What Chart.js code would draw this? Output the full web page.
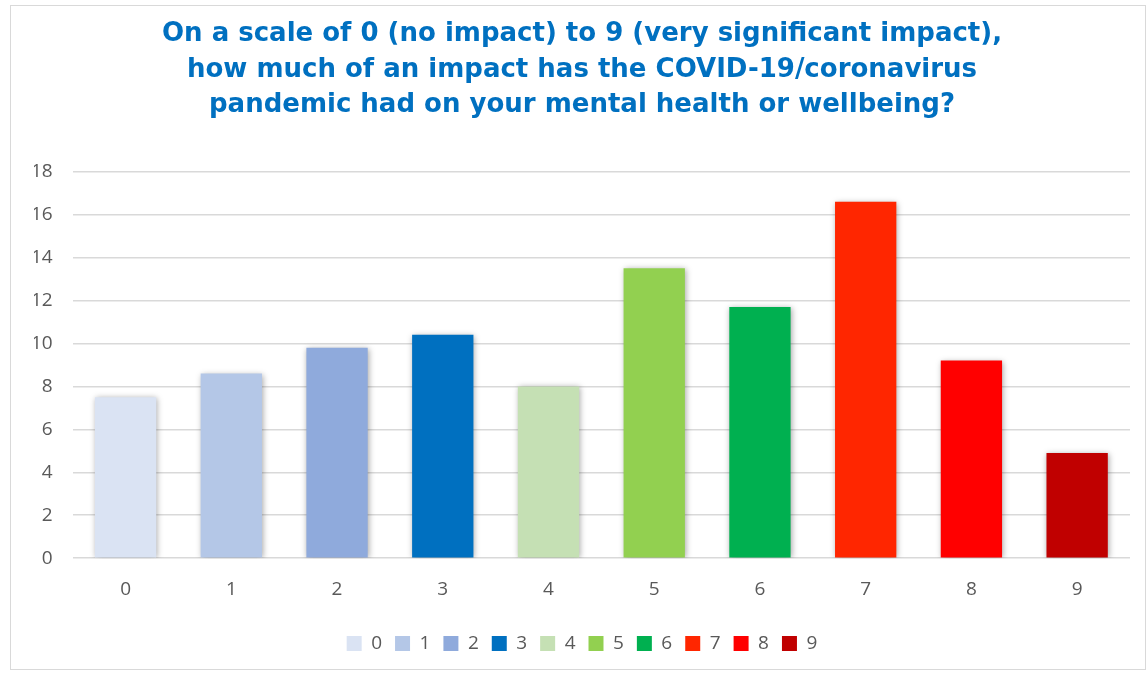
<!DOCTYPE html>
<html>
<head>
<meta charset="utf-8">
<script src="https://cdn.jsdelivr.net/npm/chart.js@4.4.0/dist/chart.umd.min.js"></script>
<style>
  body { margin: 0; background: #fff; }
  .kotak {
    position: absolute; left: 10px; top: 5px;
    width: 1136px; height: 665px;
    border: 1px solid #d9d9d9; box-sizing: border-box;
  }
</style>
</head>
<body>
<div class="kotak"><canvas id="impactChart"></canvas></div>
<script>
// Data dari gambar
const kategori = ['0', '1', '2', '3', '4', '5', '6', '7', '8', '9'];
const nilai = [7.5, 8.6, 9.8, 10.4, 8.0, 13.5, 11.7, 16.6, 9.2, 4.9];
const warna = ['#DAE3F3', '#B4C7E7', '#8FAADC', '#0070C0', '#C5E0B4',
               '#92D050', '#00B050', '#FF2600', '#FF0000', '#C00000'];
const judul = [
    'On a scale of 0 (no impact) to 9 (very significant impact),',
    'how much of an impact has the COVID-19/coronavirus',
    'pandemic had on your mental health or wellbeing?'
];

// Tiap kategori jadi dataset sendiri supaya legend menampilkan semua warna
const datasets = kategori.map((k, i) => ({
    label: k,
    data: kategori.map((_, j) => (j === i ? nilai[i] : null)),
    backgroundColor: warna[i],
    borderWidth: 0,
    barPercentage: 0.58,
    categoryPercentage: 1,
    skipNull: true
}));

// Bayangan tipis di belakang batang
const bayangan = {
    id: 'bayangan',
    beforeDatasetsDraw(chart) {
        chart.ctx.save();
        chart.ctx.shadowColor = 'rgba(0,0,0,0.35)';
        chart.ctx.shadowBlur = 6;
        chart.ctx.shadowOffsetX = 1;
        chart.ctx.shadowOffsetY = 1;
    },
    afterDatasetsDraw(chart) {
        chart.ctx.restore();
    }
};

new Chart(document.getElementById('impactChart'), {
    type: 'bar',
    data: { labels: kategori, datasets: datasets },
    options: {
        responsive: true,
        maintainAspectRatio: false,
        animation: false,
        layout: { padding: { left: 23, right: 15, top: 10, bottom: 6 } },
        plugins: {
            title: {
                display: true,
                text: judul,
                color: '#0070C0',
                font: { family: 'DejaVu Sans', size: 26, weight: 'bold', lineHeight: 1.38 },
                padding: { top: 0, bottom: 48 }
            },
            legend: {
                position: 'bottom',
                labels: {
                    color: '#595959',
                    font: { family: 'Open Sans', size: 19 },
                    boxWidth: 15,
                    boxHeight: 15,
                    padding: 13
                }
            },
            tooltip: { enabled: false }
        },
        scales: {
            x: {
                stacked: true,
                grid: { display: false },
                border: { display: false },
                ticks: { color: '#595959', font: { family: 'Open Sans', size: 19 }, padding: 12 },
                afterFit(scale) { scale.height += 8; }
            },
            y: {
                stacked: true,
                min: 0,
                max: 18,
                ticks: { stepSize: 2, color: '#595959', font: { family: 'Open Sans', size: 19 }, padding: 20 },
                grid: { color: '#d9d9d9', lineWidth: 1.5, drawTicks: false },
                border: { display: false },
                afterFit(scale) { scale.width -= 23; }
            }
        }
    },
    plugins: [bayangan]
});
</script>
</body>
</html>
